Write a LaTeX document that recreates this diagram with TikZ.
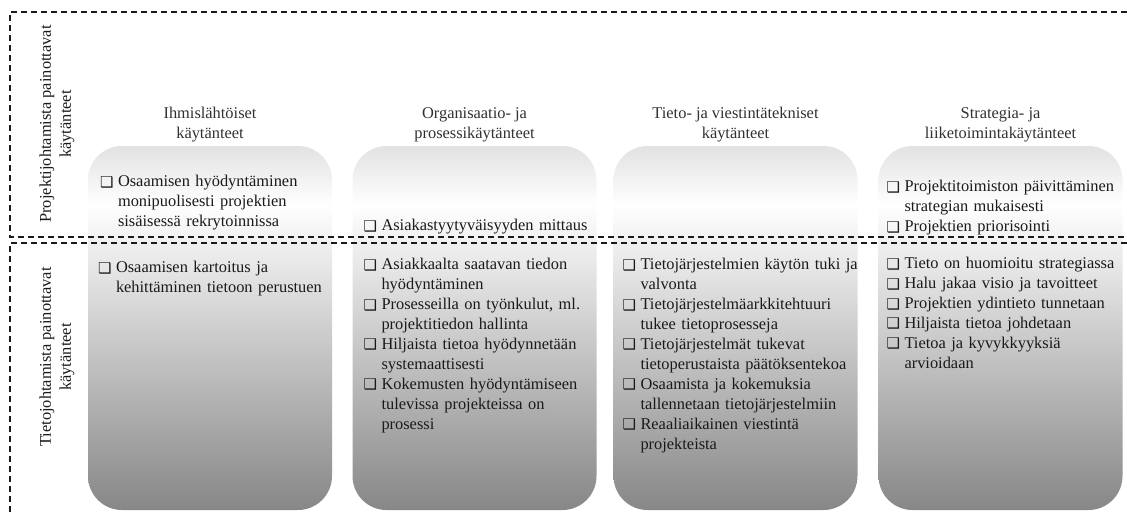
\documentclass[tikz,border=0pt]{standalone}
\usepackage{fontspec}
\setmainfont{Liberation Serif}
\newfontfamily\symfont{DejaVu Sans}
\usetikzlibrary{positioning,calc}
\definecolor{Ink}{HTML}{1A1A1A}
\definecolor{BoxLow}{HTML}{878787}
\definecolor{BoxTop}{HTML}{E2E2E2}
\pgfdeclareverticalshading{boxshade}{100bp}{color(0bp)=(BoxLow); color(25bp)=(BoxLow); color(67bp)=(white); color(75bp)=(BoxTop); color(100bp)=(BoxTop)}
\newcommand{\Chk}{\makebox[18pt][l]{\raisebox{-0.3pt}{\symfont\fontsize{15}{15}\selectfont ❑}}}
\newcommand{\Item}[1]{\par\noindent\hangindent=18pt\hangafter=1\Chk#1\par}
\tikzset{
  colbox/.style={shade,shading=boxshade,draw=none,rounded corners=34pt,minimum width=244pt,minimum height=364pt,inner sep=0pt},
  head/.style={align=center,inner sep=0pt,text=Ink!90,font=\fontsize{16.4}{19.7}\selectfont},
  items/.style={anchor=north west,inner sep=0pt,text width=250pt,align=left,text=Ink,font=\fontsize{16.4}{19.9}\selectfont},
  rowlabel/.style={rotate=90,align=center,inner sep=0pt,text=Ink,font=\fontsize{16.4}{20}\selectfont},
  frame/.style={Ink,line width=1.3pt,dash pattern=on 6pt off 4pt}
}
\begin{document}
\begin{tikzpicture}[x=1pt,y=-1pt]
\useasboundingbox (0,0) rectangle (1127,515);
% columns
\foreach \n/\x in {1/210,2/474.5,3/735.5,4/1000.5}
  \node[colbox] (c\n) at (\x,328) {};
\node[head,above=4pt of c1] (h1) {Ihmislähtöiset\\käytänteet};
\node[head,above=4pt of c2] (h2) {Organisaatio- ja\\prosessikäytänteet};
\node[head,above=4pt of c3] (h3) {Tieto- ja viestintätekniset\\käytänteet};
\node[head,above=4pt of c4] (h4) {Strategia- ja\\liiketoimintakäytänteet};
% row labels
\node[rowlabel] (r1) at (57,124) {Projektijohtamista painottavat\\käytänteet};
\node[rowlabel] (r2) at (57,357) {Tietojohtamista painottavat\\käytänteet};
% upper row
\node[items] (t1) at ($(c1.north west)+(12,21)$) {%
  \Item{Osaamisen hyödyntäminen\newline monipuolisesti projektien\newline sisäisessä rekrytoinnissa}};
\node[items] (t2) at ($(c2.north west)+(11,65)$) {%
  \Item{Asiakastyytyväisyyden mittaus}};
\node[items] (t4) at ($(c4.north west)+(8,26)$) {%
  \Item{Projektitoimiston päivittäminen\newline strategian mukaisesti}
  \Item{Projektien priorisointi}};
% lower row
\node[items] (b1) at ($(c1.north west)+(10,107)$) {%
  \Item{Osaamisen kartoitus ja\newline kehittäminen tietoon perustuen}};
\node[items] (b2) at ($(c2.north west)+(11,104)$) {%
  \Item{Asiakkaalta saatavan tiedon\newline hyödyntäminen}
  \Item{Prosesseilla on työnkulut, ml.\newline projektitiedon hallinta}
  \Item{Hiljaista tietoa hyödynnetään\newline systemaattisesti}
  \Item{Kokemusten hyödyntämiseen\newline tulevissa projekteissa on\newline prosessi}};
\node[items] (b3) at ($(c3.north west)+(9,104)$) {%
  \Item{Tietojärjestelmien käytön tuki ja\newline valvonta}
  \Item{Tietojärjestelmäarkkitehtuuri\newline tukee tietoprosesseja}
  \Item{Tietojärjestelmät tukevat\newline tietoperustaista päätöksentekoa}
  \Item{Osaamista ja kokemuksia\newline tallennetaan tietojärjestelmiin}
  \Item{Reaaliaikainen viestintä\newline projekteista}};
\node[items] (b4) at ($(c4.north west)+(8,103)$) {%
  \Item{Tieto on huomioitu strategiassa}
  \Item{Halu jakaa visio ja tavoitteet}
  \Item{Projektien ydintieto tunnetaan}
  \Item{Hiljaista tietoa johdetaan}
  \Item{Tietoa ja kyvykkyyksiä\newline arvioidaan}};
% dashed frames
\draw[frame] (1127,12) -- (10,12) -- (10,237) -- (1127,237);
\draw[frame] (1127,243) -- (10,243) -- (10,515);
\end{tikzpicture}
\end{document}
